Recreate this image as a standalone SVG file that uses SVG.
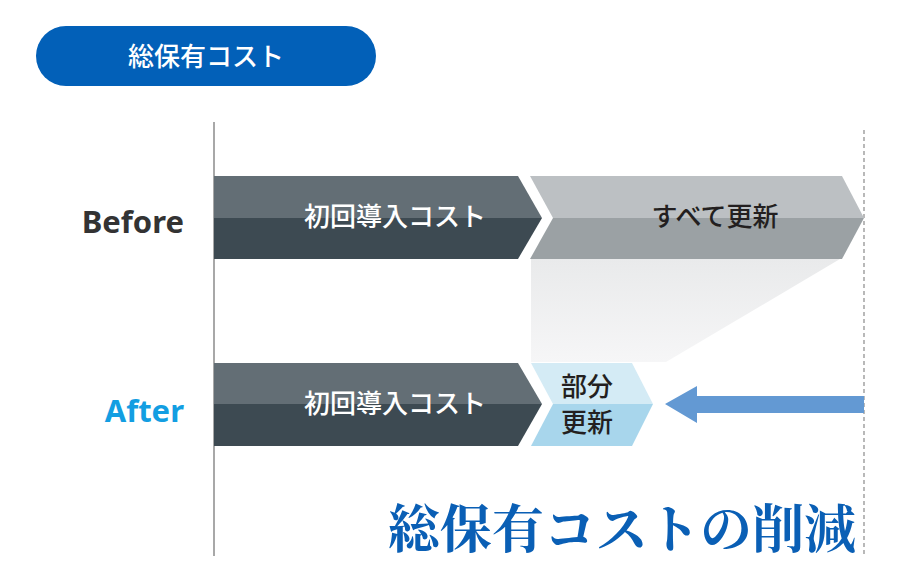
<svg xmlns="http://www.w3.org/2000/svg" width="920" height="586" viewBox="0 0 920 586">
<style>
.jp{font-family:"Noto Sans CJK JP","Noto Sans",sans-serif;font-weight:500}
.lbl{font-family:"Noto Sans","Open Sans",sans-serif;font-weight:bold;font-size:31px}
.wt{fill:#ffffff;font-size:26px}
.dk{fill:#231f20;font-size:26px}
</style>
<defs>
<linearGradient id="shade" x1="0" y1="0" x2="0" y2="1">
<stop offset="0" stop-color="#e9eaeb"/>
<stop offset="1" stop-color="#f6f6f7"/>
</linearGradient>
</defs>
<rect width="920" height="586" fill="#ffffff"/>
<g id="title">
<rect x="36" y="26" width="340" height="60" rx="30" fill="#0260b8"/>
<text x="206" y="66" class="jp" fill="#ffffff" font-size="26" text-anchor="middle">総保有コスト</text>
</g>
<g id="axes">
<line x1="214" y1="122" x2="214" y2="556" stroke="#a8a8a8" stroke-width="2"/>
<line x1="864" y1="130" x2="864" y2="556" stroke="#8a8a8a" stroke-width="1.2" stroke-dasharray="4 3"/>
</g>
<g id="label-before"><text x="184" y="233" class="lbl" fill="#333333" text-anchor="end">Before</text></g>
<g id="label-after"><text x="184" y="422" class="lbl" fill="#139ee2" text-anchor="end">After</text></g>
<g id="shadow">
<polygon points="531,259 840,259 666,362 531,362" fill="url(#shade)"/>
</g>
<g id="before-initial">
<polygon points="214,176 518,176 542,218 214,218" fill="#636e75"/>
<polygon points="214,218 542,218 518,259 214,259" fill="#3d4a52"/>
<text x="395" y="226" class="jp wt" text-anchor="middle">初回導入コスト</text>
</g>
<g id="before-renew">
<polygon points="530,176 842,176 864,218 553,218" fill="#bcc0c3"/>
<polygon points="553,218 864,218 842,259 530,259" fill="#9ba1a4"/>
<text x="715" y="226" class="jp dk" text-anchor="middle">すべて更新</text>
</g>
<g id="after-initial">
<polygon points="214,363 518,363 542,404 214,404" fill="#636e75"/>
<polygon points="214,404 542,404 518,446 214,446" fill="#3d4a52"/>
<text x="395" y="413" class="jp wt" text-anchor="middle">初回導入コスト</text>
</g>
<g id="after-partial">
<polygon points="531,363 632,363 653,404 553,404" fill="#d4ebf5"/>
<polygon points="553,404 653,404 632,446 531,446" fill="#a8d6ec"/>
<text x="587" y="396" class="jp dk" font-size="25" text-anchor="middle">部分</text>
<text x="587" y="432" class="jp dk" font-size="25" text-anchor="middle">更新</text>
</g>
<g id="connectors">
<polygon points="864,396 697,396 697,386 665,404 697,423 697,413 864,413" fill="#6399d3"/>
</g>
<g id="caption">
<text x="622" y="548" font-family="Noto Serif CJK JP, Noto Sans CJK JP, serif" font-size="52" fill="#0a5fb5" text-anchor="middle" font-weight="bold">総保有コストの削減</text>
</g>
</svg>
